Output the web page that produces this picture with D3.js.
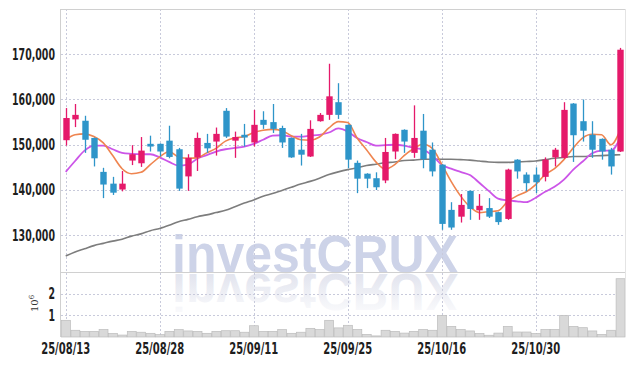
<!DOCTYPE html>
<html>
<head>
<meta charset="utf-8">
<script src="https://cdn.jsdelivr.net/npm/d3@7"></script>
<style>
  html, body { margin: 0; padding: 0; background: #fff; }
  svg { display: block; }
  .tick-label { font-family: "DejaVu Sans", sans-serif; font-size: 15px; font-weight: bold; fill: #1e1e1e; }
</style>
</head>
<body>
<div id="chart"></div>
<script>
// trading days shown on the chart
var dates = ["25/08/13","25/08/14","25/08/18","25/08/19","25/08/20","25/08/21","25/08/22","25/08/25","25/08/26","25/08/27",
  "25/08/28","25/08/29","25/09/01","25/09/02","25/09/03","25/09/04","25/09/05","25/09/08","25/09/09","25/09/10",
  "25/09/11","25/09/12","25/09/15","25/09/16","25/09/17","25/09/18","25/09/19","25/09/22","25/09/23","25/09/24",
  "25/09/25","25/09/26","25/09/29","25/09/30","25/10/01","25/10/02","25/10/10","25/10/13","25/10/14","25/10/15",
  "25/10/16","25/10/17","25/10/20","25/10/21","25/10/22","25/10/23","25/10/24","25/10/27","25/10/28","25/10/29",
  "25/10/30","25/10/31","25/11/03","25/11/04","25/11/05","25/11/06","25/11/07","25/11/10","25/11/11","25/11/12"];

var opens = [151000,155600,155300,151500,144000,141400,140100,146500,145900,150200,
  150200,150900,149000,143000,147200,150400,150700,157500,150900,152200,
  150500,155500,155000,153700,151500,148900,147400,155200,156600,159400,
  154400,146000,143600,142600,142100,148500,153300,148200,153100,148900,
  145600,135600,134100,139800,135500,136000,135100,133600,146700,143400,
  143400,142900,147200,147100,159100,155200,152200,151300,148900,148500];
var highs = [158100,159000,156400,151600,144900,142900,144200,149900,151700,152000,
  150300,154200,149300,147900,152700,152400,153800,158100,152900,154600,
  157700,157400,159000,154200,151600,152400,155400,157000,167900,163600,
  154500,146500,143700,143900,151500,152500,153400,158700,156800,150500,
  145700,137300,139100,139900,139100,138200,135200,144700,146800,143900,
  145000,147200,149300,159400,159200,160000,155200,151400,149300,171400];
var lows = [149800,153900,148200,145200,138200,138900,139700,145500,145100,148500,
  147400,147000,139800,139800,144200,148200,147600,151500,147100,149600,
  149600,153500,152600,149300,147100,145400,147300,155100,155500,155700,
  144800,139300,140400,140000,141500,146800,148200,147100,144800,143000,
  131200,131200,132800,133400,133400,133800,132300,133400,142500,139700,
  139300,141900,145200,146900,146200,150700,147100,146700,143400,148400];
var closes = [155900,156600,151100,147000,141200,139400,141400,147900,148700,149600,
  148500,147300,140300,147100,151500,149200,152400,151800,151700,151600,
  154400,154400,153500,150500,147200,147800,153500,156600,160700,156600,
  146700,142500,142500,140600,148400,152400,150700,151500,146800,144100,
  132500,131700,136700,135800,136500,134100,132900,144500,144100,141500,
  141700,146700,148900,157700,152100,153100,148900,148500,145200,171000];
var volumes = [770000,310000,260000,260000,350000,160000,90000,260000,220000,170000,
  110000,260000,340000,280000,260000,170000,260000,290000,290000,220000,
  520000,260000,260000,340000,170000,220000,400000,340000,770000,420000,
  540000,350000,120000,50000,310000,260000,180000,260000,350000,310000,
  1000000,490000,350000,280000,160000,80000,180000,490000,230000,230000,
  160000,350000,350000,1000000,490000,430000,280000,120000,310000,2690000];

// moving averages
var ma5 = [151100,152200,152400,151800,150400,147600,144700,143600,143900,145600,
  147300,148500,147300,147000,147100,148200,149200,150800,151500,151800,
  152700,153200,153400,153100,152000,151100,151000,151700,153700,155100,
  154900,151500,148900,146200,144600,145600,147600,149100,150100,149200,
  145700,141900,138700,136300,135000,135200,135400,137400,138700,139600,
  141200,143400,144700,146700,149300,151500,152300,152200,150000,153300];
var ma20 = [144000,146400,148700,149800,149800,149000,148200,148000,147900,147900,
  147200,146200,145400,145600,146900,147700,148500,149000,149300,149600,
  150200,151100,152000,152100,151800,151800,152000,152200,152700,153600,
  152900,151500,150600,149800,149900,150000,149800,149300,148900,147600,
  145600,144700,144000,143300,141600,139800,138100,137700,137500,137300,
  138300,139600,140700,142300,144500,146300,148100,148700,148700,151500];
var ma60 = [125400,126300,127000,127700,128200,128700,129100,129800,130300,131000,
  131500,132200,133000,133500,134100,134500,135000,135500,136300,137100,
  137800,138600,139200,139900,140600,141300,141900,142600,143400,144000,
  144500,144900,145400,145700,146000,146200,146500,146600,146800,146800,
  146800,146800,146700,146600,146400,146200,146100,146100,146200,146300,
  146400,146700,147000,147200,147400,147400,147500,147600,147700,147800];

var priceTicks = [130000, 140000, 150000, 160000, 170000];
var volumeTicks = [1000000, 2000000];
var dateTicks = ["25/08/13", "25/08/28", "25/09/11", "25/09/25", "25/10/16", "25/10/30"];

var width = 634, height = 366;
var plotL = 61, plotR = 625, plotT = 9, plotSplit = 272, plotB = 337;
var upColor = "#e5196a", downColor = "#2e95c9";

var svg, x, y, yv;

function initSvg() {
    svg = d3.select("#chart")
        .append("svg")
        .attr("width", width)
        .attr("height", height);
}

function initAxis() {
    x = d3.scaleBand().domain(dates).range([plotL, plotR]).padding(0);
    y = d3.scaleLinear().domain([121870, 180000]).range([plotSplit, plotT]);
    yv = d3.scaleLinear().domain([0, 3000000]).range([plotB, plotSplit]);
}

function cx(d) { return x(d) + x.bandwidth() / 2; }

function drawWatermark() {
    var defs = svg.append("defs");
    var grad = defs.append("linearGradient")
        .attr("id", "fade")
        .attr("gradientUnits", "userSpaceOnUse")
        .attr("x1", 0).attr("y1", plotSplit)
        .attr("x2", 0).attr("y2", plotSplit - 38);
    grad.append("stop").attr("offset", 0).attr("stop-color", "#e2e4ee").attr("stop-opacity", 1);
    grad.append("stop").attr("offset", 1).attr("stop-color", "#e2e4ee").attr("stop-opacity", 0.2);

    var mark = function (sel) {
        sel.attr("x", 172).attr("y", plotSplit)
            .attr("textLength", 286)
            .attr("lengthAdjust", "spacingAndGlyphs")
            .style("font-family", "Liberation Sans, Arial, sans-serif")
            .style("font-weight", "bold")
            .style("font-size", "51px")
            .text("investCRUX");
    };
    svg.append("text").call(mark).style("fill", "#cdd3e8");
    svg.append("text").call(mark)
        .attr("transform", "translate(0," + (2 * plotSplit + 2) + ") scale(1,-1)")
        .style("fill", "url(#fade)");
}

function drawGrid() {
    var g = svg.append("g").attr("class", "grid")
        .attr("stroke", "#c8cadb")
        .attr("stroke-dasharray", "2,2")
        .attr("stroke-width", 1);
    g.selectAll(".hp").data(priceTicks).enter().append("line")
        .attr("x1", plotL).attr("x2", plotR)
        .attr("y1", function (d) { return Math.round(y(d)) + 0.5; })
        .attr("y2", function (d) { return Math.round(y(d)) + 0.5; });
    g.selectAll(".hv").data(volumeTicks).enter().append("line")
        .attr("x1", plotL).attr("x2", plotR)
        .attr("y1", function (d) { return Math.round(yv(d)) + 0.5; })
        .attr("y2", function (d) { return Math.round(yv(d)) + 0.5; });
    g.selectAll(".vx").data(dateTicks).enter().append("line")
        .attr("y1", plotT).attr("y2", plotB)
        .attr("x1", function (d) { return Math.round(cx(d)) + 0.5; })
        .attr("x2", function (d) { return Math.round(cx(d)) + 0.5; });
}

function drawFrame() {
    var f = svg.append("g").attr("stroke", "#d0d0d0").attr("stroke-width", 1);
    f.append("line").attr("x1", plotL - 0.5).attr("x2", plotL - 0.5).attr("y1", plotT).attr("y2", plotB);
    f.append("line").attr("x1", plotL).attr("x2", plotR).attr("y1", plotT + 0.5).attr("y2", plotT + 0.5);
    f.append("line").attr("x1", plotL).attr("x2", plotR).attr("y1", plotSplit + 0.5).attr("y2", plotSplit + 0.5);
    f.append("line").attr("x1", plotR + 0.5).attr("x2", plotR + 0.5).attr("y1", plotT).attr("y2", plotB)
        .attr("stroke", "#e4e4e4");
}

function drawVolume() {
    var idx = d3.range(dates.length);
    svg.append("g").selectAll(".vol")
        .data(idx)
        .enter().append("rect")
        .attr("class", "vol")
        .attr("x", function (i) { return x(dates[i]) + 0.5; })
        .attr("y", function (i) { return yv(volumes[i]); })
        .attr("width", x.bandwidth() - 0.5)
        .attr("height", function (i) { return plotB - yv(volumes[i]); })
        .attr("fill", "#d9d9d9")
        .attr("stroke", "#bcbcbc")
        .attr("stroke-width", 0.7);
}

function drawLines() {
    var series = [
        { values: ma60, color: "#7d7d7d", w: 1.6 },
        { values: ma20, color: "#cc55e8", w: 1.8 },
        { values: ma5, color: "#ef8550", w: 1.6 }
    ];
    series.forEach(function (s) {
        var line = d3.line()
            .x(function (d, i) { return cx(dates[i]); })
            .y(function (d) { return y(d); })
            .curve(d3.curveMonotoneX);
        svg.append("path")
            .datum(s.values)
            .attr("fill", "none")
            .attr("stroke", s.color)
            .attr("stroke-width", s.w)
            .attr("d", line);
    });
}

function drawCandles() {
    var idx = d3.range(dates.length);
    var color = function (i) { return closes[i] >= opens[i] ? upColor : downColor; };
    var c = svg.append("g").attr("class", "candles")
        .selectAll(".candle").data(idx).enter().append("g");
    c.append("line")
        .attr("x1", function (i) { return Math.round(cx(dates[i])) + 0.5; })
        .attr("x2", function (i) { return Math.round(cx(dates[i])) + 0.5; })
        .attr("y1", function (i) { return y(highs[i]); })
        .attr("y2", function (i) { return y(lows[i]); })
        .attr("stroke", color)
        .attr("stroke-width", 1.3);
    c.append("rect")
        .attr("x", function (i) { return Math.round(cx(dates[i])) - 2.7; })
        .attr("width", 6.4)
        .attr("y", function (i) { return y(Math.max(opens[i], closes[i])); })
        .attr("height", function (i) { return Math.max(1, Math.abs(y(opens[i]) - y(closes[i]))); })
        .attr("fill", color);
}

function drawAxis() {
    svg.append("g").selectAll("text").data(priceTicks).enter().append("text")
        .attr("class", "tick-label")
        .attr("x", 55)
        .attr("y", function (d) { return y(d); })
        .attr("dy", "0.36em")
        .attr("text-anchor", "end")
        .attr("textLength", 43)
        .attr("lengthAdjust", "spacingAndGlyphs")
        .text(function (d) { return d3.format(",")(d); });
    svg.append("g").selectAll("text").data(volumeTicks).enter().append("text")
        .attr("class", "tick-label")
        .attr("x", 55)
        .attr("y", function (d) { return yv(d); })
        .attr("dy", "0.36em")
        .attr("text-anchor", "end")
        .attr("textLength", 6.5)
        .attr("lengthAdjust", "spacingAndGlyphs")
        .text(function (d) { return d / 1000000; });
    svg.append("g").selectAll("text").data(dateTicks).enter().append("text")
        .attr("class", "tick-label")
        .attr("x", function (d) { return cx(d); })
        .attr("y", 354)
        .attr("text-anchor", "middle")
        .attr("textLength", 49)
        .attr("lengthAdjust", "spacingAndGlyphs")
        .text(function (d) { return d; });

    var unit = svg.append("text")
        .attr("transform", "translate(38,312) rotate(-90)")
        .style("font-family", "DejaVu Serif, serif")
        .style("font-size", "10px")
        .style("fill", "#333");
    unit.append("tspan").text("10");
    unit.append("tspan").attr("dy", -4).style("font-size", "7px").text("6");
}

initSvg();
initAxis();
drawWatermark();
drawGrid();
drawVolume();
drawFrame();
drawLines();
drawCandles();
drawAxis();
</script>
</body>
</html>
